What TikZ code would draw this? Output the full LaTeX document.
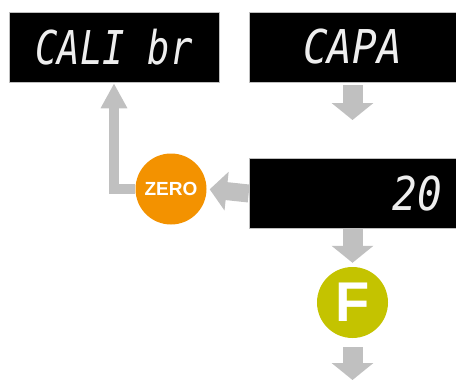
\documentclass[tikz,border=0pt]{standalone}
\usepackage{fontspec}
\usepackage{graphicx}
\setmainfont{Liberation Sans}
\newfontfamily\lcdfont{DejaVu Sans Mono}
\usetikzlibrary{arrows.meta}
\definecolor{arrowgrey}{HTML}{C0C0C0}
\definecolor{zeroorange}{HTML}{F39200}
\definecolor{fgreen}{HTML}{C4C300}
\definecolor{lcdwhite}{HTML}{EEEEEE}
\newcommand\lcdtxt[2]{\scalebox{#1}[1]{\lcdfont\itshape\fontsize{46.6}{50}\selectfont #2}}
\tikzset{
  lcdbox/.style={fill=black, draw=gray!50, line width=0.6pt, minimum width=207pt,
    minimum height=70pt, inner sep=0pt, text=lcdwhite},
  bigarrow/.style={draw=arrowgrey, line width=20pt,
    -{Triangle[width=41pt,length=17pt]}},
  midarrow/.style={draw=arrowgrey, line width=18pt,
    -{Triangle[width=38pt,length=17pt]}},
  thinarrow/.style={draw=arrowgrey, line width=10pt, line join=miter,
    -{Triangle[width=25pt,length=25pt]}},
  keycircle/.style={circle, minimum size=71pt, inner sep=0pt, text=white,
    font=\bfseries}
}
\begin{document}
\begin{tikzpicture}[x=1pt,y=-1pt]
\useasboundingbox (0,0) rectangle (456,383);
\node[lcdbox, minimum width=210pt] (box1) at (114,47) {\lcdtxt{0.8}{CALI br}};
\node[lcdbox] (box2) at (352.5,47) {\lcdtxt{0.88}{CAPA}};
\node[lcdbox, text width=179pt, inner xsep=14pt, align=right] (box3) at (352.5,193.5) {\lcdtxt{0.88}{20}};
\node[keycircle, fill=zeroorange, font=\bfseries\fontsize{19}{22}\selectfont] (zero) at (171,189) {ZERO};
\node[keycircle, fill=fgreen, font=\bfseries\fontsize{56}{60}\selectfont] (fkey) at (352.5,302.5) {F};
\coordinate (a1end) at (352.5,120);
\coordinate (a4end) at (352.5,380);
\draw[bigarrow, shorten <=3pt] (box2.south) -- (a1end);
\draw[midarrow, shorten >=3pt] (box3.west) -- (zero.east);
\draw[thinarrow, shorten >=1pt] (zero.west) -| (box1.south);
\draw[bigarrow, shorten >=4pt] (box3.south) -- (fkey.north);
\draw[bigarrow, shorten <=9pt] (fkey.south) -- (a4end);
\end{tikzpicture}
\end{document}
